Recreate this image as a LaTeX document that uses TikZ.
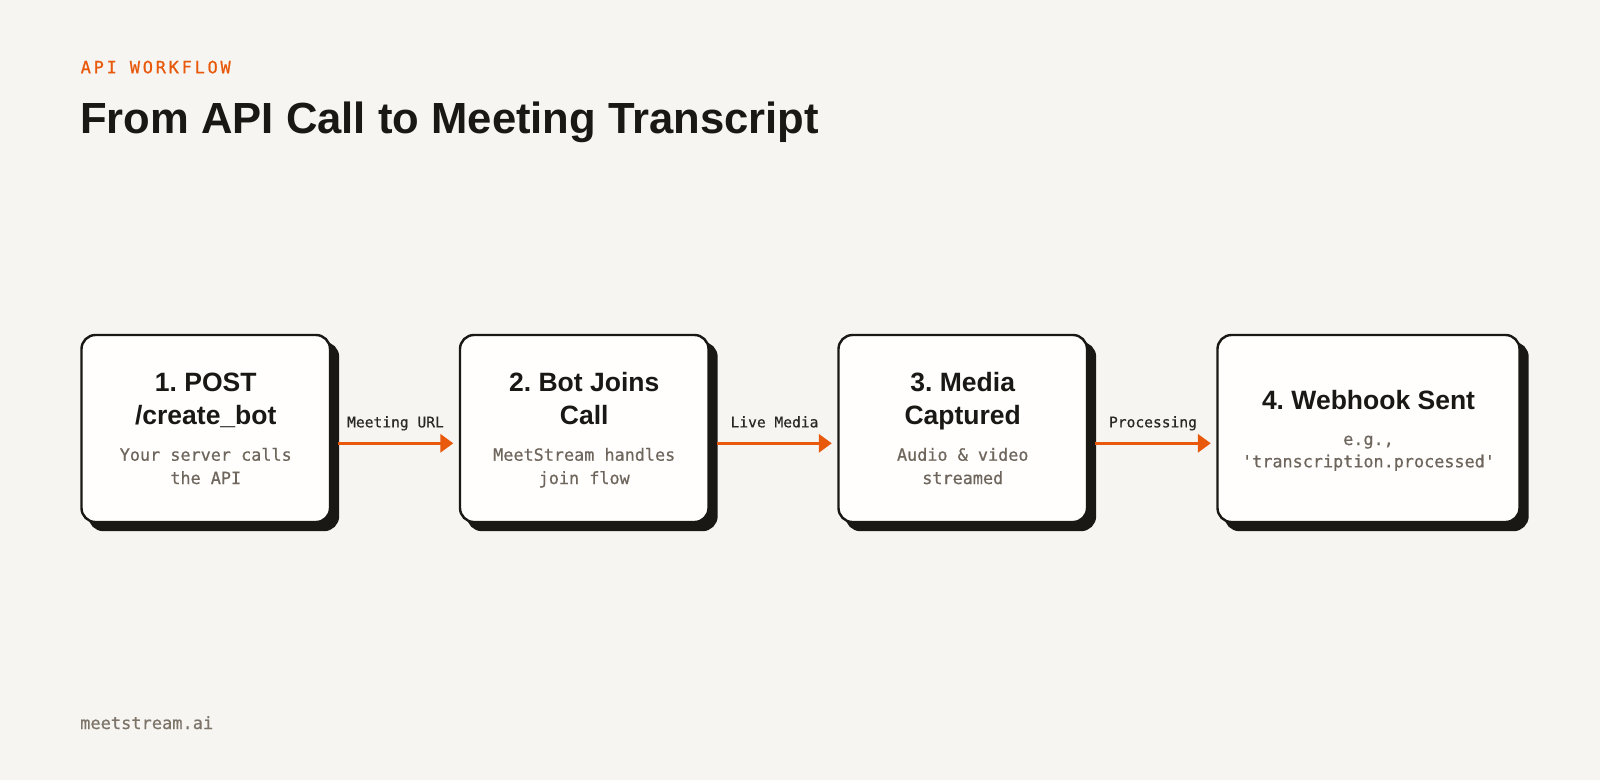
\documentclass[tikz,border=0pt]{standalone}
\usepackage{fontspec}
\setmainfont{Liberation Sans}
\newfontfamily\monofont{DejaVu Sans Mono}[FakeBold=0.6]
\newfontfamily\spacedmono{DejaVu Sans Mono}[LetterSpace=16,FakeBold=0.6]
\usetikzlibrary{arrows.meta,shadows}
\definecolor{bgc}{HTML}{F6F5F2}
\definecolor{ink}{HTML}{1A1815}
\definecolor{accent}{HTML}{E8590C}
\definecolor{subgrey}{HTML}{6E665D}
\definecolor{labdark}{HTML}{2B2824}
\definecolor{footgrey}{HTML}{7D7469}
\definecolor{boxfill}{HTML}{FFFEFC}
\tikzset{
  card/.style={draw=ink, line width=2.4pt, fill=boxfill, rounded corners=14pt,
    minimum height=187pt, inner sep=0pt,
    copy shadow={shadow xshift=8pt, shadow yshift=-8pt, fill=ink, draw=ink}},
  cardtitle/.style={anchor=base, inner sep=0pt, text=ink, font=\fontsize{26.5}{30}\selectfont\bfseries},
  cardsub/.style={anchor=base, inner sep=0pt, text=subgrey, font=\monofont\fontsize{16.8}{20}\selectfont},
  flowlabel/.style={anchor=base, inner sep=0pt, text=labdark, font=\monofont\fontsize{14.6}{18}\selectfont},
  flow/.style={draw=accent, line width=3.2pt, -{Triangle[length=13pt,width=18pt]}}
}
\frenchspacing
\begin{document}
\begin{tikzpicture}[x=1pt,y=-1pt]
\fill[bgc] (0,0) rectangle (1600,780);
\useasboundingbox (0,0) rectangle (1600,780);

% header
\node[anchor=base west, inner sep=0pt, text=accent, font=\spacedmono\fontsize{17}{20}\selectfont] (kicker) at (80.5,73.3) {API WORKFLOW};
\node[anchor=base west, inner sep=0pt, text=ink, font=\fontsize{43.6}{50}\selectfont\bfseries] (title) at (80,133.3) {From API Call to Meeting Transcript};

% cards
\node[card, minimum width=248.5pt] (b1) at (205.75,428.5) {};
\node[card, minimum width=248.5pt] (b2) at (584.25,428.5) {};
\node[card, minimum width=248.5pt] (b3) at (962.75,428.5) {};
\node[card, minimum width=302pt] (b4) at (1368.5,428.5) {};

% card 1
\node[cardtitle] (t1a) at (205.75,391.7) {1. POST};
\node[cardtitle] (t1b) at (205.75,424) {/create\_bot};
\node[cardsub] (s1a) at (205.75,460.7) {Your server calls};
\node[cardsub] (s1b) at (205.75,484) {the API};
% card 2
\node[cardtitle] (t2a) at (584.25,391.7) {2. Bot Joins};
\node[cardtitle] (t2b) at (584.25,424) {Call};
\node[cardsub] (s2a) at (584.25,460.7) {MeetStream handles};
\node[cardsub] (s2b) at (584.25,484) {join flow};
% card 3
\node[cardtitle] (t3a) at (962.75,391.7) {3. Media};
\node[cardtitle] (t3b) at (962.75,424) {Captured};
\node[cardsub] (s3a) at (962.75,460.7) {Audio \& video};
\node[cardsub] (s3b) at (962.75,484) {streamed};
% card 4
\node[cardtitle] (t4a) at (1368.5,409.3) {4. Webhook Sent};
\node[cardsub] (s4a) at (1368.5,445) {e.g.,};
\node[cardsub] (s4b) at (1368.5,467.3) {'transcription.processed'};

% connectors
\coordinate (a1s) at ([xshift=7pt,yshift=-14.8pt]b1.east);
\coordinate (a1e) at ([xshift=-5.5pt,yshift=-14.8pt]b2.west);
\coordinate (a2s) at ([xshift=7pt,yshift=-14.8pt]b2.east);
\coordinate (a2e) at ([xshift=-5.5pt,yshift=-14.8pt]b3.west);
\coordinate (a3s) at ([xshift=7pt,yshift=-14.8pt]b3.east);
\coordinate (a3e) at ([xshift=-5.5pt,yshift=-14.8pt]b4.west);
\draw[flow] (a1s) -- (a1e);
\draw[flow] (a2s) -- (a2e);
\draw[flow] (a3s) -- (a3e);
\node[flowlabel] (l1) at (395.5,427.3) {Meeting URL};
\node[flowlabel] (l2) at (774.5,427.3) {Live Media};
\node[flowlabel] (l3) at (1153,427.3) {Processing};

% footer
\node[anchor=base west, inner sep=0pt, text=footgrey, font=\monofont\fontsize{17}{20}\selectfont] (foot) at (80,729) {meetstream.ai};
\end{tikzpicture}
\end{document}
